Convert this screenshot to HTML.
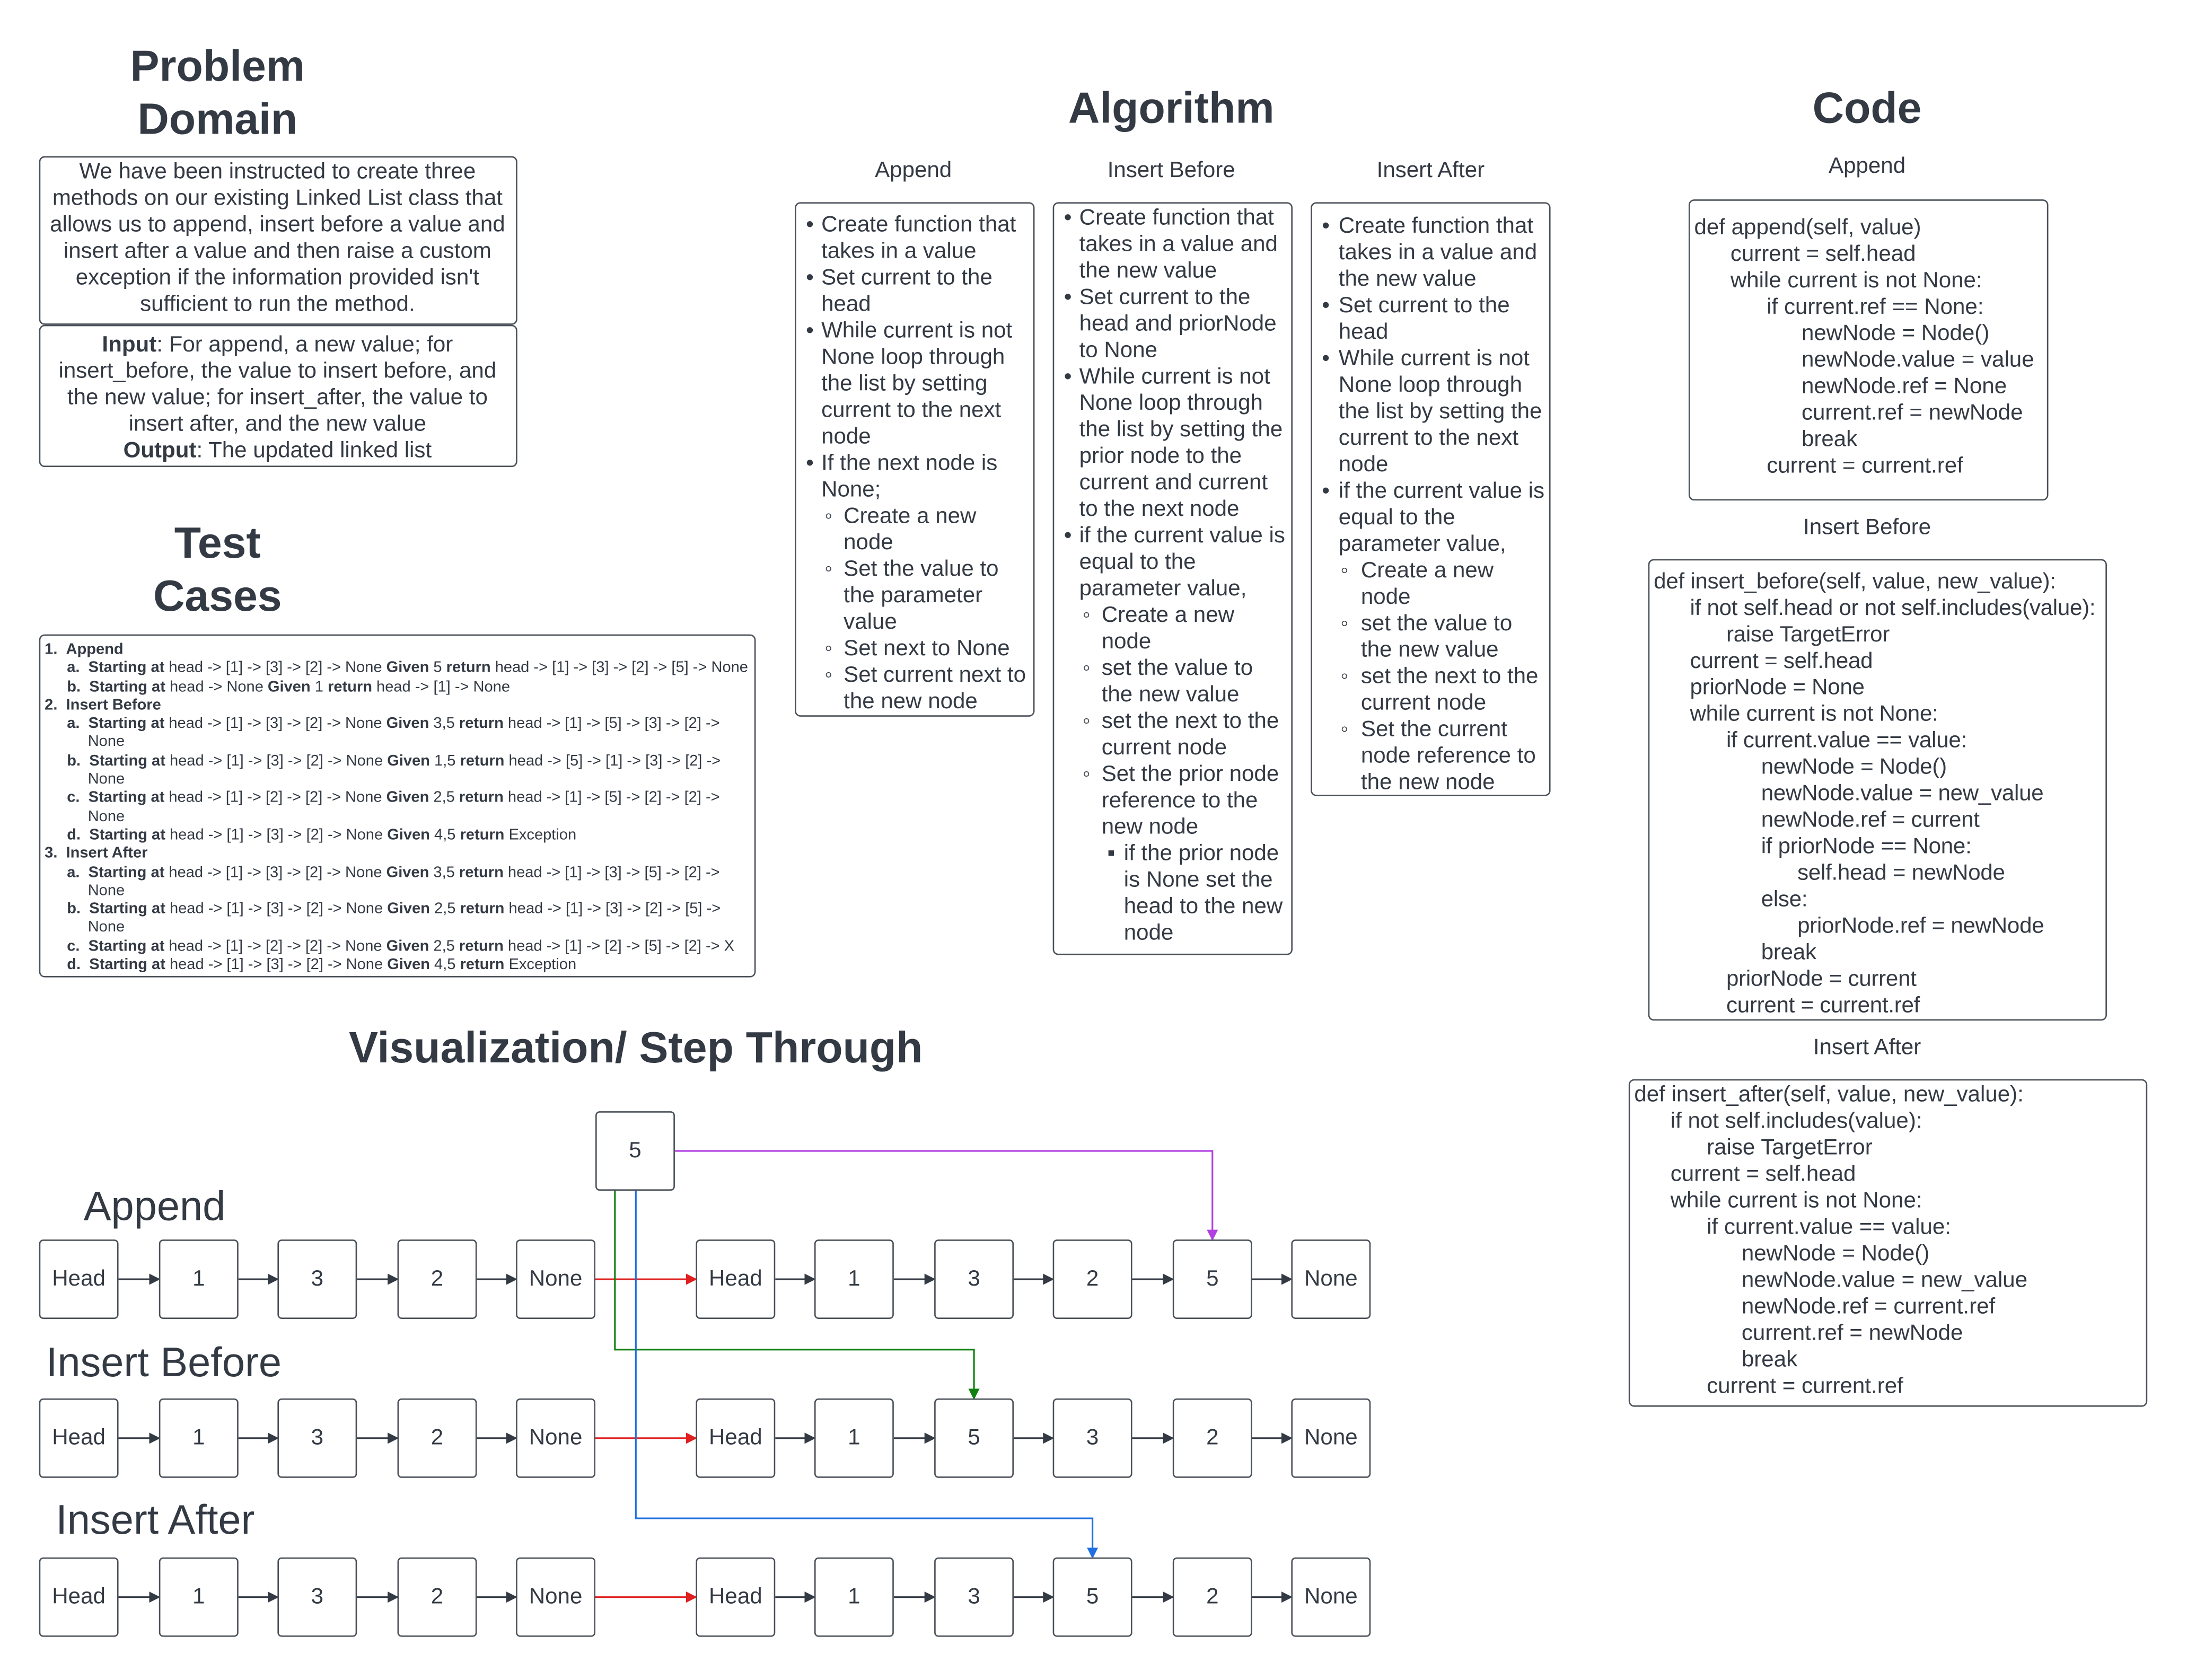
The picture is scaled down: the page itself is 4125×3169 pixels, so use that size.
<!DOCTYPE html>
<html><head><meta charset="utf-8">
<style>
html,body{margin:0;padding:0;background:#fff;width:4125px;height:3167px;overflow:hidden}
#w{position:absolute;left:0;top:0;width:1570px;height:1205px;transform:scale(2.630);transform-origin:0 0;font-family:"Liberation Sans",sans-serif;color:#333a44}
.t{position:absolute;white-space:nowrap;font-size:16px;line-height:19px}
.h{position:absolute;white-space:nowrap;font-size:31.3px;font-weight:bold;line-height:38px;text-align:center;transform:translateX(-50%)}
.c{transform:translateX(-50%);text-align:center}
.box{position:absolute;border:1.3px solid #4a5058;border-radius:4px;box-sizing:border-box}
.n{position:absolute;width:57px;height:57px;border:1.3px solid #4a5058;border-radius:3px;box-sizing:border-box;font-size:16px;line-height:55px;text-align:center;background:#fff}
.s{position:absolute;white-space:nowrap;font-size:11.05px;line-height:13.3px}
.v{position:absolute;white-space:nowrap;font-size:29.5px;line-height:38px}
</style></head><body><div id="w">
<svg width="1570" height="1205" style="position:absolute;left:0;top:0">
<defs>
<marker id="k" markerWidth="8" markerHeight="8" refX="7" refY="4" orient="auto" markerUnits="userSpaceOnUse"><path d="M0,0 L8,4 L0,8z" fill="#333a44"/></marker>
<marker id="r" markerWidth="8" markerHeight="8" refX="7" refY="4" orient="auto" markerUnits="userSpaceOnUse"><path d="M0,0 L8,4 L0,8z" fill="#e02020"/></marker>
<marker id="p" markerWidth="8" markerHeight="8" refX="7" refY="4" orient="auto" markerUnits="userSpaceOnUse"><path d="M0,0 L8,4 L0,8z" fill="#b040e0"/></marker>
<marker id="g" markerWidth="8" markerHeight="8" refX="7" refY="4" orient="auto" markerUnits="userSpaceOnUse"><path d="M0,0 L8,4 L0,8z" fill="#108010"/></marker>
<marker id="b" markerWidth="8" markerHeight="8" refX="7" refY="4" orient="auto" markerUnits="userSpaceOnUse"><path d="M0,0 L8,4 L0,8z" fill="#2070e0"/></marker>
</defs>
<g stroke="#333a44" stroke-width="1.2" fill="none" marker-end="url(#k)">
<line x1="85" y1="917.5" x2="114" y2="917.5"/><line x1="171" y1="917.5" x2="199" y2="917.5"/><line x1="256" y1="917.5" x2="285" y2="917.5"/><line x1="342" y1="917.5" x2="370" y2="917.5"/>
<line x1="556" y1="917.5" x2="584" y2="917.5"/><line x1="641" y1="917.5" x2="670" y2="917.5"/><line x1="727" y1="917.5" x2="755" y2="917.5"/><line x1="812" y1="917.5" x2="841" y2="917.5"/><line x1="898" y1="917.5" x2="926" y2="917.5"/>
<line x1="85" y1="1031.5" x2="114" y2="1031.5"/><line x1="171" y1="1031.5" x2="199" y2="1031.5"/><line x1="256" y1="1031.5" x2="285" y2="1031.5"/><line x1="342" y1="1031.5" x2="370" y2="1031.5"/>
<line x1="556" y1="1031.5" x2="584" y2="1031.5"/><line x1="641" y1="1031.5" x2="670" y2="1031.5"/><line x1="727" y1="1031.5" x2="755" y2="1031.5"/><line x1="812" y1="1031.5" x2="841" y2="1031.5"/><line x1="898" y1="1031.5" x2="926" y2="1031.5"/>
<line x1="85" y1="1145.5" x2="114" y2="1145.5"/><line x1="171" y1="1145.5" x2="199" y2="1145.5"/><line x1="256" y1="1145.5" x2="285" y2="1145.5"/><line x1="342" y1="1145.5" x2="370" y2="1145.5"/>
<line x1="556" y1="1145.5" x2="584" y2="1145.5"/><line x1="641" y1="1145.5" x2="670" y2="1145.5"/><line x1="727" y1="1145.5" x2="755" y2="1145.5"/><line x1="812" y1="1145.5" x2="841" y2="1145.5"/><line x1="898" y1="1145.5" x2="926" y2="1145.5"/>
</g>
<g stroke="#e02020" stroke-width="1.2" marker-end="url(#r)">
<line x1="427" y1="917.5" x2="499" y2="917.5"/><line x1="427" y1="1031.5" x2="499" y2="1031.5"/><line x1="427" y1="1145.5" x2="499" y2="1145.5"/>
</g>
<polyline points="484,825.5 869.5,825.5 869.5,889" stroke="#b040e0" stroke-width="1.2" fill="none" marker-end="url(#p)"/>
<polyline points="441,854 441,968 698.5,968 698.5,1003" stroke="#108010" stroke-width="1.2" fill="none" marker-end="url(#g)"/>
<polyline points="456,854 456,1089 783.5,1089 783.5,1117" stroke="#2070e0" stroke-width="1.2" fill="none" marker-end="url(#b)"/>
</svg>

<div class="h" style="left:156px;top:29px">Problem</div>
<div class="h" style="left:156px;top:67px">Domain</div>
<div class="box" style="left:28px;top:112px;width:343px;height:121px"></div>
<div class="t c" style="left:199px;top:114px;text-align:center">We have been instructed to create three<br>methods on our existing Linked List class that<br>allows us to append, insert before a value and<br>insert after a value and then raise a custom<br>exception if the information provided isn't<br>sufficient to run the method.</div>
<div class="box" style="left:28px;top:233px;width:343px;height:102px"></div>
<div class="t c" style="left:199px;top:238px;text-align:center"><b>Input</b>: For append, a new value; for<br>insert_before, the value to insert before, and<br>the new value; for insert_after, the value to<br>insert after, and the new value<br><b>Output</b>: The updated linked list</div>

<div class="h" style="left:156px;top:371px">Test</div>
<div class="h" style="left:156px;top:409px">Cases</div>
<div class="box" style="left:28px;top:455px;width:514px;height:246px"></div>
<div class="s" style="left:32px;top:460px;width:510px">
<div><b>1.&nbsp;&nbsp;Append</b></div>
<div style="padding-left:16px"><b>a.&nbsp;&nbsp;Starting at</b> head -&gt; [1] -&gt; [3] -&gt; [2] -&gt; None <b>Given</b> 5 <b>return</b> head -&gt; [1] -&gt; [3] -&gt; [2] -&gt; [5] -&gt; None</div>
<div style="padding-left:16px"><b>b.&nbsp;&nbsp;Starting at</b> head -&gt; None <b>Given</b> 1 <b>return</b> head -&gt; [1] -&gt; None</div>
<div><b>2.&nbsp;&nbsp;Insert Before</b></div>
<div style="padding-left:16px"><b>a.&nbsp;&nbsp;Starting at</b> head -&gt; [1] -&gt; [3] -&gt; [2] -&gt; None <b>Given</b> 3,5 <b>return</b> head -&gt; [1] -&gt; [5] -&gt; [3] -&gt; [2] -&gt;</div>
<div style="padding-left:31px">None</div>
<div style="padding-left:16px"><b>b.&nbsp;&nbsp;Starting at</b> head -&gt; [1] -&gt; [3] -&gt; [2] -&gt; None <b>Given</b> 1,5 <b>return</b> head -&gt; [5] -&gt; [1] -&gt; [3] -&gt; [2] -&gt;</div>
<div style="padding-left:31px">None</div>
<div style="padding-left:16px"><b>c.&nbsp;&nbsp;Starting at</b> head -&gt; [1] -&gt; [2] -&gt; [2] -&gt; None <b>Given</b> 2,5 <b>return</b> head -&gt; [1] -&gt; [5] -&gt; [2] -&gt; [2] -&gt;</div>
<div style="padding-left:31px">None</div>
<div style="padding-left:16px"><b>d.&nbsp;&nbsp;Starting at</b> head -&gt; [1] -&gt; [3] -&gt; [2] -&gt; None <b>Given</b> 4,5 <b>return</b> Exception</div>
<div><b>3.&nbsp;&nbsp;Insert After</b></div>
<div style="padding-left:16px"><b>a.&nbsp;&nbsp;Starting at</b> head -&gt; [1] -&gt; [3] -&gt; [2] -&gt; None <b>Given</b> 3,5 <b>return</b> head -&gt; [1] -&gt; [3] -&gt; [5] -&gt; [2] -&gt;</div>
<div style="padding-left:31px">None</div>
<div style="padding-left:16px"><b>b.&nbsp;&nbsp;Starting at</b> head -&gt; [1] -&gt; [3] -&gt; [2] -&gt; None <b>Given</b> 2,5 <b>return</b> head -&gt; [1] -&gt; [3] -&gt; [2] -&gt; [5] -&gt;</div>
<div style="padding-left:31px">None</div>
<div style="padding-left:16px"><b>c.&nbsp;&nbsp;Starting at</b> head -&gt; [1] -&gt; [2] -&gt; [2] -&gt; None <b>Given</b> 2,5 <b>return</b> head -&gt; [1] -&gt; [2] -&gt; [5] -&gt; [2] -&gt; X</div>
<div style="padding-left:16px"><b>d.&nbsp;&nbsp;Starting at</b> head -&gt; [1] -&gt; [3] -&gt; [2] -&gt; None <b>Given</b> 4,5 <b>return</b> Exception</div>
</div>

<div class="h" style="left:840px;top:59px">Algorithm</div>
<div class="h" style="left:1339px;top:59px">Code</div>
<div class="t c" style="left:655px;top:113px">Append</div>
<div class="t c" style="left:840px;top:113px">Insert Before</div>
<div class="t c" style="left:1026px;top:113px">Insert After</div>

<div class="box" style="left:570px;top:145px;width:172px;height:369px"></div>
<div class="t" style="left:578px;top:152px">•<br><br>•<br><br>•<br><br><br><br><br>•<br><br>&nbsp;&nbsp;&nbsp;◦<br><br>&nbsp;&nbsp;&nbsp;◦<br><br><br>&nbsp;&nbsp;&nbsp;◦<br>&nbsp;&nbsp;&nbsp;◦</div>
<div class="t" style="left:589px;top:152px">Create function that<br>takes in a value<br>Set current to the<br>head<br>While current is not<br>None loop through<br>the list by setting<br>current to the next<br>node<br>If the next node is<br>None;<br><span style="padding-left:16px">Create a new</span><br><span style="padding-left:16px">node</span><br><span style="padding-left:16px">Set the value to</span><br><span style="padding-left:16px">the parameter</span><br><span style="padding-left:16px">value</span><br><span style="padding-left:16px">Set next to None</span><br><span style="padding-left:16px">Set current next to</span><br><span style="padding-left:16px">the new node</span></div>

<div class="box" style="left:755px;top:145px;width:172px;height:540px"></div>
<div class="t" style="left:763px;top:147px">•<br><br><br>•<br><br><br>•<br><br><br><br><br><br>•<br><br><br>&nbsp;&nbsp;&nbsp;◦<br><br>&nbsp;&nbsp;&nbsp;◦<br><br>&nbsp;&nbsp;&nbsp;◦<br><br>&nbsp;&nbsp;&nbsp;◦<br><br><br>&nbsp;&nbsp;&nbsp;&nbsp;&nbsp;&nbsp;&nbsp;▪</div>
<div class="t" style="left:774px;top:147px">Create function that<br>takes in a value and<br>the new value<br>Set current to the<br>head and priorNode<br>to None<br>While current is not<br>None loop through<br>the list by setting the<br>prior node to the<br>current and current<br>to the next node<br>if the current value is<br>equal to the<br>parameter value,<br><span style="padding-left:16px">Create a new</span><br><span style="padding-left:16px">node</span><br><span style="padding-left:16px">set the value to</span><br><span style="padding-left:16px">the new value</span><br><span style="padding-left:16px">set the next to the</span><br><span style="padding-left:16px">current node</span><br><span style="padding-left:16px">Set the prior node</span><br><span style="padding-left:16px">reference to the</span><br><span style="padding-left:16px">new node</span><br><span style="padding-left:32px">if the prior node</span><br><span style="padding-left:32px">is None set the</span><br><span style="padding-left:32px">head to the new</span><br><span style="padding-left:32px">node</span></div>

<div class="box" style="left:940px;top:145px;width:172px;height:426px"></div>
<div class="t" style="left:948px;top:153px">•<br><br><br>•<br><br>•<br><br><br><br><br>•<br><br><br>&nbsp;&nbsp;&nbsp;◦<br><br>&nbsp;&nbsp;&nbsp;◦<br><br>&nbsp;&nbsp;&nbsp;◦<br><br>&nbsp;&nbsp;&nbsp;◦</div>
<div class="t" style="left:960px;top:153px">Create function that<br>takes in a value and<br>the new value<br>Set current to the<br>head<br>While current is not<br>None loop through<br>the list by setting the<br>current to the next<br>node<br>if the current value is<br>equal to the<br>parameter value,<br><span style="padding-left:16px">Create a new</span><br><span style="padding-left:16px">node</span><br><span style="padding-left:16px">set the value to</span><br><span style="padding-left:16px">the new value</span><br><span style="padding-left:16px">set the next to the</span><br><span style="padding-left:16px">current node</span><br><span style="padding-left:16px">Set the current</span><br><span style="padding-left:16px">node reference to</span><br><span style="padding-left:16px">the new node</span></div>

<div class="t c" style="left:1339px;top:110px">Append</div>
<div class="box" style="left:1211px;top:143px;width:258px;height:216px"></div>
<div class="t" style="left:1215px;top:154px">def append(self, value)<br><span style="padding-left:26px">current = self.head</span><br><span style="padding-left:26px">while current is not None:</span><br><span style="padding-left:52px">if current.ref == None:</span><br><span style="padding-left:77px">newNode = Node()</span><br><span style="padding-left:77px">newNode.value = value</span><br><span style="padding-left:77px">newNode.ref = None</span><br><span style="padding-left:77px">current.ref = newNode</span><br><span style="padding-left:77px">break</span><br><span style="padding-left:52px">current = current.ref</span></div>

<div class="t c" style="left:1339px;top:369px">Insert Before</div>
<div class="box" style="left:1182px;top:401px;width:329px;height:331px"></div>
<div class="t" style="left:1186px;top:408px;letter-spacing:-0.1px">def insert_before(self, value, new_value):<br><span style="padding-left:26px">if not self.head or not self.includes(value):</span><br><span style="padding-left:52px">raise TargetError</span><br><span style="padding-left:26px">current = self.head</span><br><span style="padding-left:26px">priorNode = None</span><br><span style="padding-left:26px">while current is not None:</span><br><span style="padding-left:52px">if current.value == value:</span><br><span style="padding-left:77px">newNode = Node()</span><br><span style="padding-left:77px">newNode.value = new_value</span><br><span style="padding-left:77px">newNode.ref = current</span><br><span style="padding-left:77px">if priorNode == None:</span><br><span style="padding-left:103px">self.head = newNode</span><br><span style="padding-left:77px">else:</span><br><span style="padding-left:103px">priorNode.ref = newNode</span><br><span style="padding-left:77px">break</span><br><span style="padding-left:52px">priorNode = current</span><br><span style="padding-left:52px">current = current.ref</span></div>

<div class="t c" style="left:1339px;top:742px">Insert After</div>
<div class="box" style="left:1168px;top:774px;width:372px;height:235px"></div>
<div class="t" style="left:1172px;top:776px">def insert_after(self, value, new_value):<br><span style="padding-left:26px">if not self.includes(value):</span><br><span style="padding-left:52px">raise TargetError</span><br><span style="padding-left:26px">current = self.head</span><br><span style="padding-left:26px">while current is not None:</span><br><span style="padding-left:52px">if current.value == value:</span><br><span style="padding-left:77px">newNode = Node()</span><br><span style="padding-left:77px">newNode.value = new_value</span><br><span style="padding-left:77px">newNode.ref = current.ref</span><br><span style="padding-left:77px">current.ref = newNode</span><br><span style="padding-left:77px">break</span><br><span style="padding-left:52px">current = current.ref</span></div>

<div class="h" style="left:456px;top:733px">Visualization/ Step Through</div>
<div class="v" style="left:60px;top:847px">Append</div>
<div class="v" style="left:33px;top:959px">Insert Before</div>
<div class="v" style="left:40px;top:1072px">Insert After</div>

<div class="n" style="left:427px;top:797px">5</div>

<div class="n" style="left:28px;top:889px">Head</div><div class="n" style="left:114px;top:889px">1</div><div class="n" style="left:199px;top:889px">3</div><div class="n" style="left:285px;top:889px">2</div><div class="n" style="left:370px;top:889px">None</div>
<div class="n" style="left:499px;top:889px">Head</div><div class="n" style="left:584px;top:889px">1</div><div class="n" style="left:670px;top:889px">3</div><div class="n" style="left:755px;top:889px">2</div><div class="n" style="left:841px;top:889px">5</div><div class="n" style="left:926px;top:889px">None</div>

<div class="n" style="left:28px;top:1003px">Head</div><div class="n" style="left:114px;top:1003px">1</div><div class="n" style="left:199px;top:1003px">3</div><div class="n" style="left:285px;top:1003px">2</div><div class="n" style="left:370px;top:1003px">None</div>
<div class="n" style="left:499px;top:1003px">Head</div><div class="n" style="left:584px;top:1003px">1</div><div class="n" style="left:670px;top:1003px">5</div><div class="n" style="left:755px;top:1003px">3</div><div class="n" style="left:841px;top:1003px">2</div><div class="n" style="left:926px;top:1003px">None</div>

<div class="n" style="left:28px;top:1117px">Head</div><div class="n" style="left:114px;top:1117px">1</div><div class="n" style="left:199px;top:1117px">3</div><div class="n" style="left:285px;top:1117px">2</div><div class="n" style="left:370px;top:1117px">None</div>
<div class="n" style="left:499px;top:1117px">Head</div><div class="n" style="left:584px;top:1117px">1</div><div class="n" style="left:670px;top:1117px">3</div><div class="n" style="left:755px;top:1117px">5</div><div class="n" style="left:841px;top:1117px">2</div><div class="n" style="left:926px;top:1117px">None</div>
</div></body></html>
